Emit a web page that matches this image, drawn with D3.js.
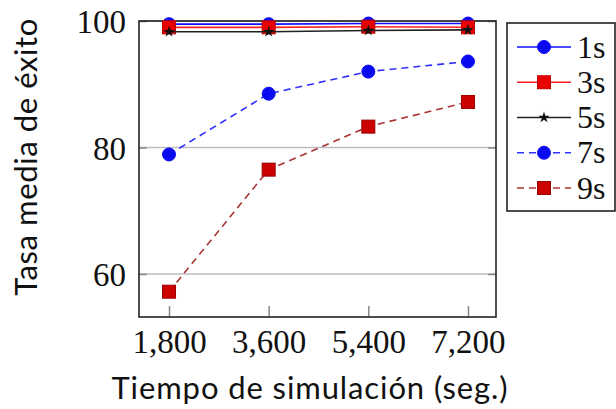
<!DOCTYPE html>
<html>
<head>
<meta charset="utf-8">
<script src="https://cdn.jsdelivr.net/npm/d3@7"></script>
<style>
  body { margin: 0; background: #fff; }
  svg { display: block; }
</style>
</head>
<body>
<div id="chart"></div>
<script>
const times = [1800, 3600, 5400, 7200];
const yTicks = [60, 80, 100];
const seriesNames = ["1s", "3s", "5s", "7s", "9s"];
const s1 = [99.5, 99.5, 99.6, 99.6];
const s3 = [99.0, 99.0, 99.1, 99.0];
const s5 = [98.3, 98.3, 98.5, 98.6];
const s7 = [78.9, 88.5, 92.0, 93.6];
const s9 = [57.2, 76.5, 83.3, 87.2];

const styles = [
    {stroke: "#1010ff", dash: null, marker: "circle", fill: "#0a0af0", mstroke: "#0a0af0"},
    {stroke: "#ff2020", dash: null, marker: "square", fill: "#e60000", mstroke: "#c00000"},
    {stroke: "#222", dash: null, marker: "star", fill: "#111", mstroke: "#111"},
    {stroke: "#3030ff", dash: "7,5", marker: "circle", fill: "#0a0af0", mstroke: "#0a0af0"},
    {stroke: "#a83232", dash: "7,5", marker: "square", fill: "#cc0000", mstroke: "#990000"}
];

const series = [s1, s3, s5, s7, s9].map((vals, i) => ({
    name: seriesNames[i],
    style: styles[i],
    values: vals.map((v, j) => ({t: times[j], v}))
}));

const width = 616;
const height = 409;
const margin = ({top: 21, right: 120, bottom: 92, left: 139});

const x = d3.scaleLinear()
      .domain([1258, 7706])
      .range([margin.left, width - margin.right]);

const y = d3.scaleLinear()
      .domain([53.2, 100])
      .range([height - margin.bottom, margin.top]);

const svg = d3.select("#chart").append("svg")
      .attr("width", width)
      .attr("height", height)
      .attr("viewBox", [0, 0, width, height]);

// grid
svg.append("g")
    .selectAll("line")
    .data(yTicks)
    .join("line")
    .attr("x1", x.range()[0])
    .attr("x2", x.range()[1])
    .attr("y1", d => y(d))
    .attr("y2", d => y(d))
    .attr("stroke", "#bdbdbd")
    .attr("stroke-width", 1.5);

const tickFont = g => g
      .call(g => g.selectAll("text")
            .attr("font-family", "'Liberation Serif', serif")
            .attr("font-size", 33)
            .attr("fill", "#111"))
      .call(g => g.selectAll(".tick line").attr("stroke", "#888").attr("stroke-width", 1.5))
      .call(g => g.select(".domain").remove());

svg.append("g")
    .attr("transform", `translate(0,${y.range()[0]})`)
    .call(d3.axisBottom(x).tickValues(times).tickFormat(d3.format(",")).tickSize(-11).tickPadding(13))
    .call(tickFont);

svg.append("g")
    .attr("transform", `translate(${x.range()[0]},0)`)
    .call(d3.axisLeft(y).tickValues(yTicks).tickSize(-8).tickPadding(13))
    .call(tickFont)
    .call(g => g.selectAll("text").attr("dy", "0.35em"));

svg.append("g")
    .attr("transform", `translate(${x.range()[1]},0)`)
    .call(d3.axisRight(y).tickValues(yTicks).tickSize(-8).tickFormat(""))
    .call(tickFont);

// frame
svg.append("rect")
    .attr("x", x.range()[0])
    .attr("y", y.range()[1])
    .attr("width", x.range()[1] - x.range()[0])
    .attr("height", y.range()[0] - y.range()[1])
    .attr("fill", "none")
    .attr("stroke", "#222")
    .attr("stroke-width", 1.6);

const line = d3.line()
      .x(d => x(d.t))
      .y(d => y(d.v));

const drawMarker = (sel, st) => {
    if (st.marker === "circle") {
        sel.append("circle").attr("r", 6.5)
            .attr("fill", st.fill).attr("stroke", st.mstroke);
    } else if (st.marker === "square") {
        sel.append("rect").attr("x", -6.5).attr("y", -6.5)
            .attr("width", 13).attr("height", 13)
            .attr("fill", st.fill).attr("stroke", st.mstroke);
    } else {
        sel.append("path").attr("d", d3.symbol(d3.symbolStar, 40)())
            .attr("fill", st.fill);
    }
};

series.forEach(s => {
    const g = svg.append("g");
    g.append("path")
        .datum(s.values)
        .attr("fill", "none")
        .attr("stroke", s.style.stroke)
        .attr("stroke-width", 1.6)
        .attr("stroke-dasharray", s.style.dash)
        .attr("d", line);
    g.selectAll("g.pt")
        .data(s.values)
        .join("g")
        .attr("class", "pt")
        .attr("transform", d => `translate(${x(d.t)},${y(d.v)})`)
        .each(function() { drawMarker(d3.select(this), s.style); });
});

// legend
const legend = svg.append("g");
legend.append("rect")
    .attr("x", 507)
    .attr("y", 23)
    .attr("width", 108)
    .attr("height", 188)
    .attr("fill", "#fff")
    .attr("stroke", "#222")
    .attr("stroke-width", 1.6);

const ly = d3.scalePoint()
      .domain(seriesNames)
      .range([47, 188]);

series.forEach(s => {
    const g = legend.append("g").attr("transform", `translate(0,${ly(s.name)})`);
    g.append("line")
        .attr("x1", 517).attr("x2", 571)
        .attr("stroke", s.style.stroke)
        .attr("stroke-width", 1.6)
        .attr("stroke-dasharray", s.style.dash);
    drawMarker(g.append("g").attr("transform", "translate(544,0)"), s.style);
    g.append("text")
        .attr("x", 577)
        .attr("dy", "0.33em")
        .attr("font-family", "'Liberation Serif', serif")
        .attr("font-size", 32)
        .attr("fill", "#111")
        .text(s.name);
});

// axis titles
svg.append("text")
    .attr("x", 310)
    .attr("y", 399)
    .attr("text-anchor", "middle")
    .attr("font-family", "Lato, sans-serif")
    .attr("font-size", 31)
    .attr("letter-spacing", 0.9)
    .attr("fill", "#111")
    .text("Tiempo de simulación (seg.)");

svg.append("text")
    .attr("transform", "translate(37,157) rotate(-90)")
    .attr("text-anchor", "middle")
    .attr("font-family", "Lato, sans-serif")
    .attr("font-size", 31)
    .attr("letter-spacing", 0.6)
    .attr("fill", "#111")
    .text("Tasa media de éxito");
</script>
</body>
</html>
